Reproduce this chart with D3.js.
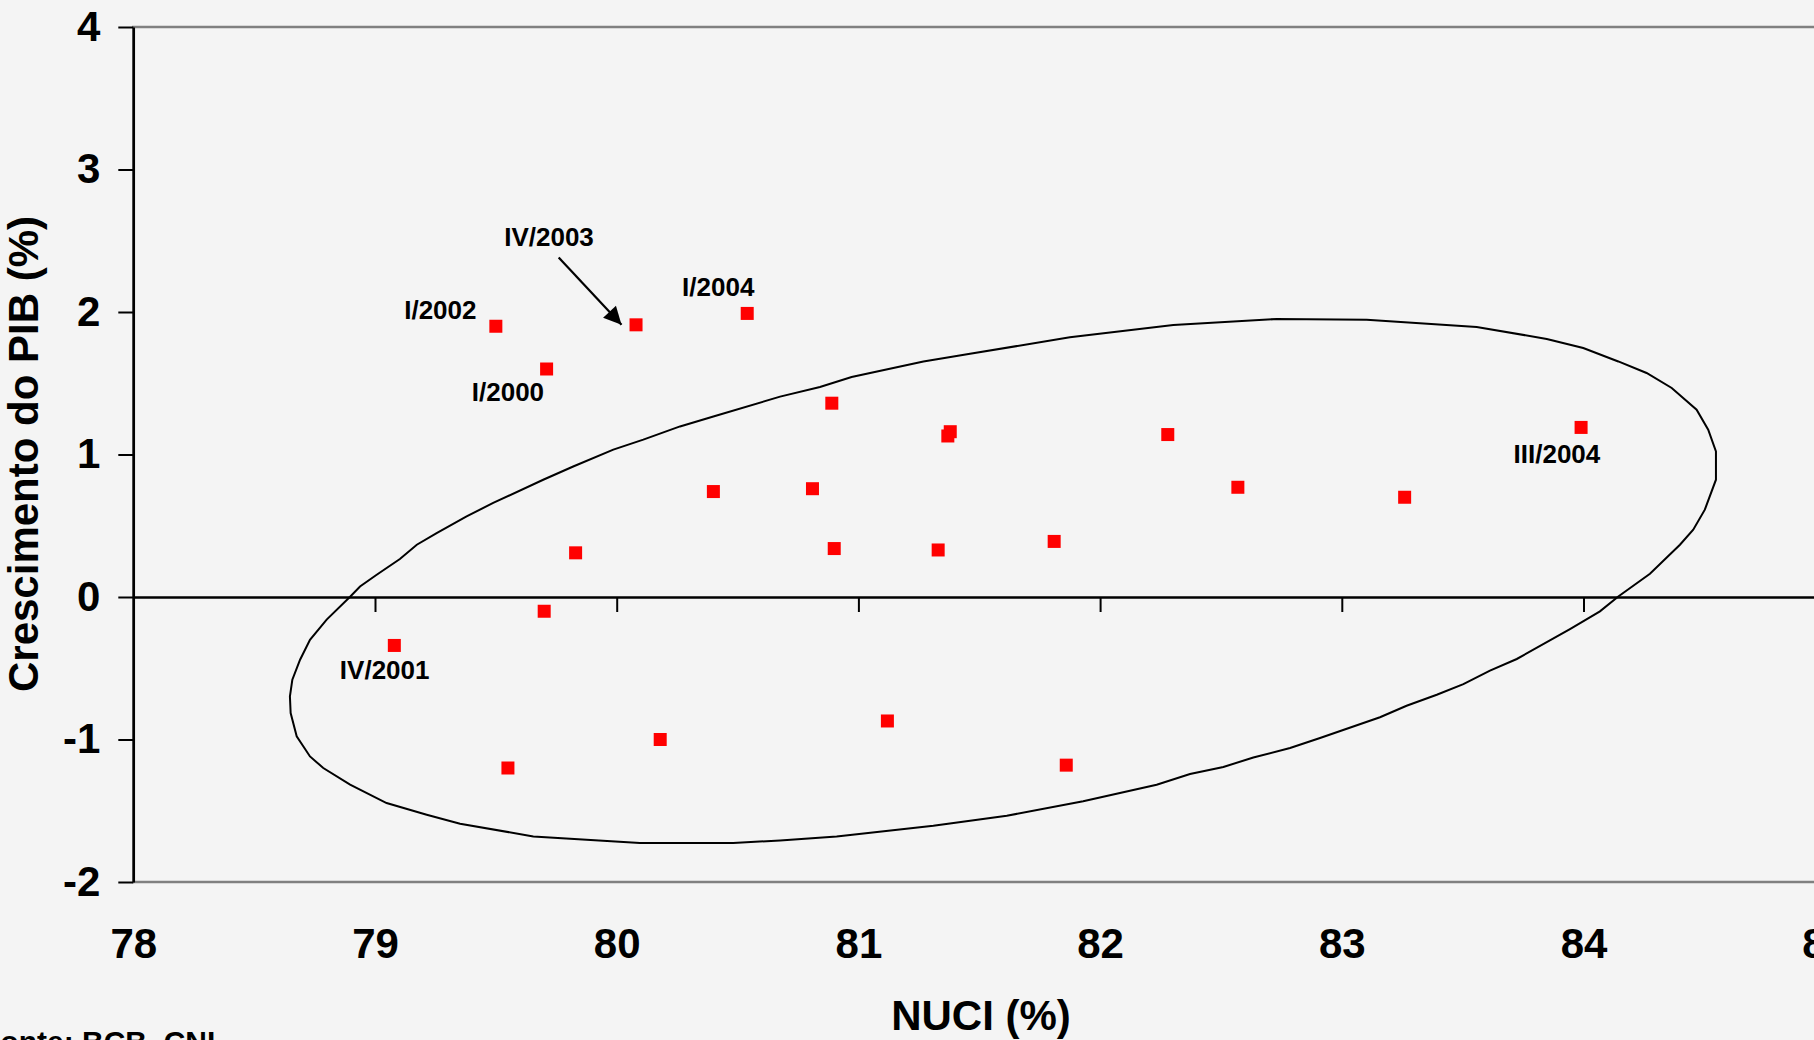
<!DOCTYPE html>
<html>
<head>
<meta charset="utf-8">
<script src="https://cdn.jsdelivr.net/npm/d3@7"></script>
<style>
  html, body { margin: 0; padding: 0; background: #f4f4f4; overflow: hidden; }
  svg { display: block; }
  text { font-family: "Liberation Sans", Arial, sans-serif; font-weight: bold; fill: #000; }
</style>
</head>
<body>
<svg id="chart" width="1814" height="1040"></svg>
<script>
// ---- data ----
const nuci = [79.50, 80.08, 80.54, 79.71, 80.40, 79.83, 79.70, 79.08, 79.55, 80.18,
              80.89, 81.38, 81.37, 82.28, 80.81, 82.57, 80.90, 81.33, 81.81, 81.12,
              83.26, 83.99, 81.86];
const pib  = [1.90, 1.91, 1.99, 1.60, 0.74, 0.31, -0.10, -0.34, -1.20, -1.00,
              1.36, 1.16, 1.13, 1.14, 0.76, 0.77, 0.34, 0.33, 0.39, -0.87,
              0.70, 1.19, -1.18];

const labelText = ["IV/2003", "I/2002", "I/2004", "I/2000", "IV/2001", "III/2004"];
const labelX    = [79.72, 79.42, 80.42, 79.55, 79.04, 83.89];
const labelY    = [2.465, 1.951, 2.114, 1.378, -0.575, 0.940];
const labelAnchor = ["middle", "end", "middle", "middle", "middle", "middle"];

const arrowFrom = [79.76, 2.383];
const arrowTo   = [80.02, 1.911];

const ellipseX = [78.648, 78.658, 78.690, 78.731, 78.800, 78.897, 78.938, 79.007, 79.103, 79.173,
                  79.255, 79.379, 79.489, 79.696, 79.820, 79.986, 80.110, 80.262, 80.400, 80.676,
                  80.841, 80.972, 81.269, 81.462, 81.875, 82.303, 82.731, 83.103, 83.558, 83.848,
                  83.999, 84.144, 84.261, 84.365, 84.468, 84.516, 84.548, 84.548, 84.502, 84.454,
                  84.399, 84.275, 84.144, 84.068, 83.944, 83.724, 83.613, 83.503, 83.393, 83.268,
                  83.158, 82.910, 82.786, 82.634, 82.510, 82.372, 82.234, 81.930, 81.614, 81.310,
                  80.910, 80.676, 80.482, 80.096, 79.655, 79.352, 79.214, 79.048, 78.897, 78.786,
                  78.731, 78.676, 78.651];
const ellipseY = [-0.698, -0.580, -0.440, -0.300, -0.159, 0.002, 0.074, 0.156, 0.267, 0.367,
                  0.449, 0.566, 0.660, 0.823, 0.916, 1.034, 1.104, 1.197, 1.267, 1.406,
                  1.474, 1.544, 1.653, 1.707, 1.822, 1.909, 1.951, 1.946, 1.895, 1.811,
                  1.747, 1.653, 1.572, 1.467, 1.314, 1.174, 1.022, 0.823, 0.613, 0.472,
                  0.367, 0.163, 0.004, -0.101, -0.225, -0.435, -0.517, -0.612, -0.686, -0.763,
                  -0.844, -0.989, -1.060, -1.126, -1.193, -1.242, -1.317, -1.434, -1.535, -1.605,
                  -1.680, -1.708, -1.726, -1.726, -1.680, -1.591, -1.528, -1.446, -1.317, -1.200,
                  -1.119, -0.978, -0.814];

const xTicks = [78, 79, 80, 81, 82, 83, 84, 85];
const yTicks = [-2, -1, 0, 1, 2, 3, 4];
const xTitle = "NUCI (%)";
const yTitle = "Crescimento do PIB (%)";
const source = "Fonte: BCB, CNI";

// ---- drawing ----
const svg = d3.select("#chart");
const W = 1814, H = 1040;

svg.append("rect").attr("width", W).attr("height", H).attr("fill", "#f4f4f4");

const x = d3.scaleLinear().domain([78, 85]).range([133.3, 1825.2]);
const y = d3.scaleLinear().domain([-2, 4]).range([882, 27]);

// plot area border (top & bottom visible)
svg.append("rect")
  .attr("x", x(78)).attr("y", y(4))
  .attr("width", x(85) - x(78)).attr("height", y(-2) - y(4))
  .attr("fill", "none").attr("stroke", "#808080").attr("stroke-width", 2.5);

// x axis crossing at 0 with downward ticks (no labels)
const xAxisZero = svg.append("g")
  .attr("transform", `translate(0,${y(0)})`)
  .call(d3.axisBottom(x).tickValues(xTicks.filter(d => d > 78)).tickSize(15).tickSizeOuter(0).tickFormat(""));
xAxisZero.select(".domain").attr("stroke", "#000").attr("stroke-width", 2.5);
xAxisZero.selectAll(".tick line").attr("stroke", "#000").attr("stroke-width", 2);

// x tick labels at the bottom
const xAxisLab = svg.append("g")
  .attr("transform", `translate(0,${y(-2)})`)
  .call(d3.axisBottom(x).tickValues(xTicks).tickSize(0).tickSizeOuter(0).tickFormat(d3.format("d")));
xAxisLab.select(".domain").remove();
xAxisLab.selectAll(".tick text")
  .attr("y", 76).attr("dy", 0)
  .style("font-family", '"Liberation Sans", Arial, sans-serif')
  .style("font-weight", "bold").style("font-size", "42px").attr("fill", "#000");

// y axis
const yAxis = svg.append("g")
  .attr("transform", `translate(${x(78)},0)`)
  .call(d3.axisLeft(y).tickValues(yTicks).tickSize(15).tickSizeOuter(0).tickPadding(18).tickFormat(d3.format("d")));
yAxis.select(".domain").attr("stroke", "#000").attr("stroke-width", 2.5);
yAxis.selectAll(".tick line").attr("stroke", "#000").attr("stroke-width", 2);
yAxis.selectAll(".tick text")
  .style("font-family", '"Liberation Sans", Arial, sans-serif')
  .style("font-weight", "bold").style("font-size", "42px").attr("fill", "#000")
  .text(d => d < 0 ? "-" + Math.abs(d) : d);

// ellipse outline
const outline = ellipseX.map((d, i) => [d, ellipseY[i]]);
svg.append("path")
  .datum(outline)
  .attr("d", d3.line().x(d => x(d[0])).y(d => y(d[1])).curve(d3.curveLinearClosed))
  .attr("fill", "none").attr("stroke", "#000").attr("stroke-width", 2);

// points
const pts = nuci.map((d, i) => ({ x: d, y: pib[i] }));
const s = 13;
svg.append("g").selectAll("rect").data(pts).join("rect")
  .attr("x", d => x(d.x) - s / 2).attr("y", d => y(d.y) - s / 2)
  .attr("width", s).attr("height", s)
  .attr("fill", "#ff0000");

// arrow
svg.append("defs").append("marker")
  .attr("id", "arrowhead").attr("viewBox", "0 0 10 10")
  .attr("refX", 10).attr("refY", 5)
  .attr("markerWidth", 9).attr("markerHeight", 8)
  .attr("markerUnits", "strokeWidth")
  .attr("orient", "auto")
  .append("path").attr("d", "M0,0 L10,5 L0,10 z").attr("fill", "#000");
svg.append("line")
  .attr("x1", x(arrowFrom[0])).attr("y1", y(arrowFrom[1]))
  .attr("x2", x(arrowTo[0])).attr("y2", y(arrowTo[1]))
  .attr("stroke", "#000").attr("stroke-width", 2.2)
  .attr("marker-end", "url(#arrowhead)");

// point labels
svg.append("g").selectAll("text").data(labelText).join("text")
  .attr("x", (d, i) => x(labelX[i])).attr("y", (d, i) => y(labelY[i]))
  .attr("text-anchor", (d, i) => labelAnchor[i])
  .style("font-size", "26px")
  .text(d => d);

// axis titles
svg.append("text")
  .attr("x", 981).attr("y", 1030)
  .attr("text-anchor", "middle").style("font-size", "42px")
  .text(xTitle);
svg.append("text")
  .attr("transform", "translate(38,454) rotate(-90)")
  .attr("text-anchor", "middle").style("font-size", "42px")
  .text(yTitle);

// source note
svg.append("text")
  .attr("x", -18).attr("y", 1052)
  .style("font-size", "30px")
  .text(source);
</script>
</body>
</html>
